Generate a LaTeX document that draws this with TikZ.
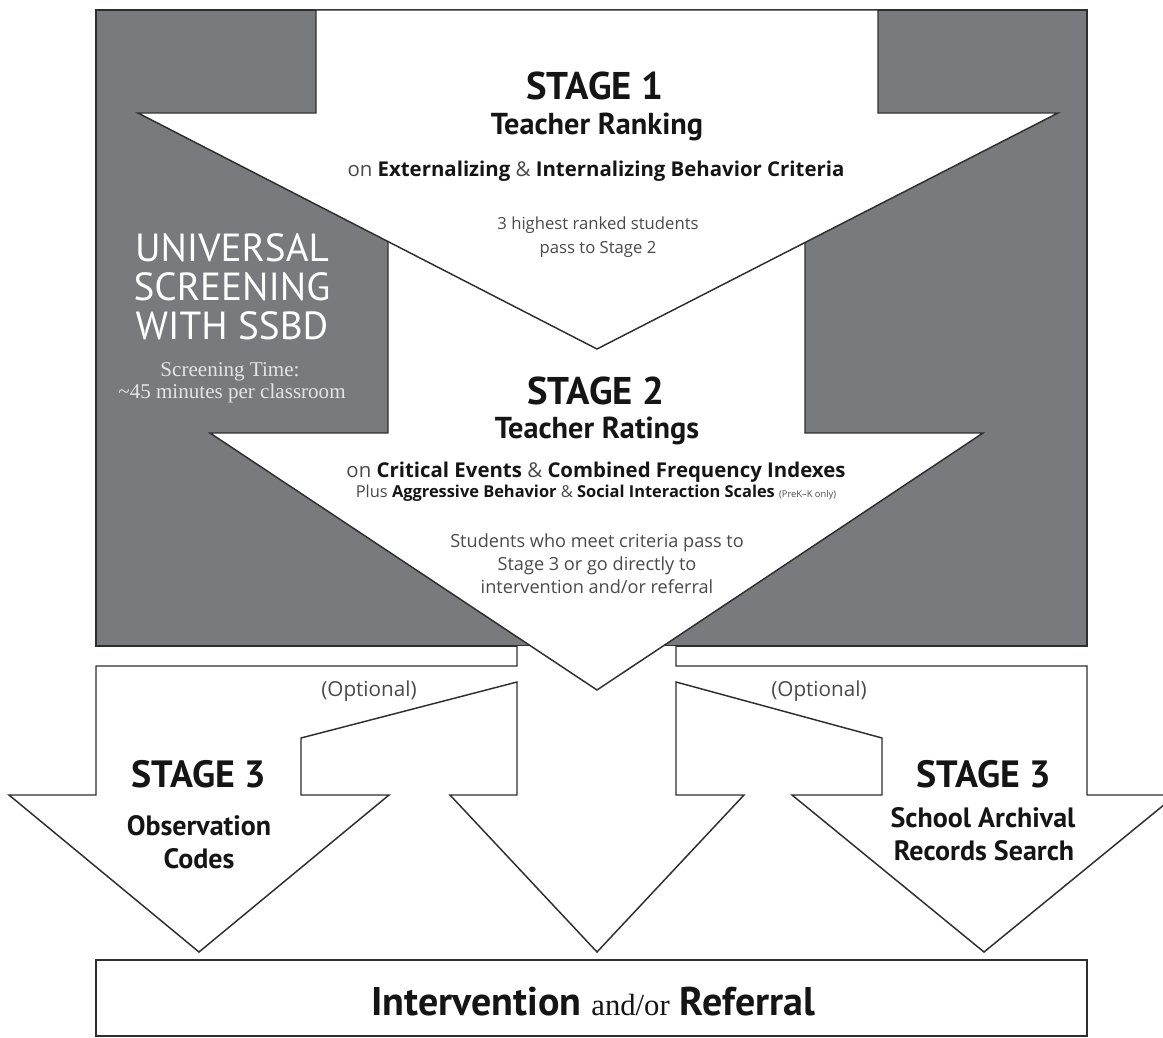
\documentclass[tikz,border=0pt]{standalone}
\usepackage{fontspec}
\setmainfont{Open Sans}
\newfontfamily\headfont{PT Sans}
\newfontfamily\oldfont{Liberation Serif}
\usetikzlibrary{positioning}
\definecolor{boxgray}{HTML}{797A7E}
\definecolor{linegray}{HTML}{2E2E2E}
\definecolor{txtgray}{HTML}{4A4A4A}
\definecolor{titleblack}{HTML}{151515}
\definecolor{lightwhite}{HTML}{E4E4E4}
\newcommand{\hl}[1]{{\bfseries\color{titleblack}#1}}

\begin{document}
\begin{tikzpicture}[x=0.75pt,y=0.75pt,yscale=-1,xscale=1,
  arrowshape/.style={draw=linegray,line width=1.1pt,fill=white,line join=miter},
  stagetitle/.style={font=\headfont\bfseries\fontsize{29}{33}\selectfont,text=titleblack,anchor=base,inner sep=0pt},
  stagename/.style={font=\headfont\bfseries\fontsize{22.7}{26}\selectfont,text=titleblack,anchor=base,inner sep=0pt},
  smallname/.style={font=\headfont\bfseries\fontsize{21}{24}\selectfont,text=titleblack,anchor=base,inner sep=0pt},
  criteria/.style={font=\fontsize{15.3}{18}\selectfont,text=txtgray,anchor=base,inner sep=0pt},
  note/.style={font=\fontsize{12.5}{15}\selectfont,text=txtgray,anchor=base,inner sep=0pt},
  bigwhite/.style={font=\headfont\fontsize{29.4}{33}\selectfont,text=white,anchor=base,inner sep=0pt},
  smallwhite/.style={font=\oldfont\fontsize{15.8}{18}\selectfont,text=lightwhite,anchor=base,inner sep=0pt}]
\useasboundingbox (0,0) rectangle (1163,1038);

% Gray box
\draw[draw=linegray,line width=1.1pt,fill=boxgray] (96,10) -- (1087,10) -- (1087,646) -- (96,646) -- cycle;

% Stage 3 arrows
\draw[arrowshape] (517,646) -- (517,666) -- (96,666) -- (96,795) -- (9,795) -- (199,952) -- (389,795) -- (301,795) -- (301,738) -- (517,682) -- (517,795) -- (450,795) -- (597,952) -- (744,795) -- (676,795) -- (676,682) -- (882,738) -- (882,795) -- (792,795) -- (984,952) -- (1176,795) -- (1087,795) -- (1087,666) -- (676,666) -- (676,646);

% Stage 2 arrow
\draw[arrowshape] (388,200) -- (805,200) -- (805,433) -- (983,433) -- (597,690) -- (210,433) -- (388,433) -- cycle;

% Stage 1 arrow
\draw[arrowshape] (316,10) -- (878,10) -- (878,113) -- (1058,113) -- (597,349) -- (138,113) -- (316,113) -- cycle;

% Result box
\draw[arrowshape] (96,960) -- (1087,960) -- (1087,1036) -- (96,1036) -- cycle;

% Text Node
\node[stagetitle] (stageone) at (595,100) {STAGE 1};
\node[stagename] (ranking) at (597,135) {Teacher Ranking};
\node[criteria] (extint) at (596,176) {on \hl{Externalizing} \& \hl{Internalizing Behavior Criteria}};
\node[note] (highest) at (598,229) {3 highest ranked students};
\node[note] (passtwo) at (598,253) {pass to Stage 2};

% Text Node
\node[bigwhite] (universal) at (232,261) {UNIVERSAL};
\node[bigwhite] (screening) at (232,300) {SCREENING};
\node[bigwhite] (withssbd) at (232,339) {WITH SSBD};
\node[smallwhite] (scrtime) at (230,376) {Screening Time:};
\node[smallwhite] (minutes) at (232,398) {\textasciitilde 45 minutes per classroom};

% Text Node
\node[stagetitle] (stagetwo) at (596,404) {STAGE 2};
\node[stagename] (ratings) at (597,438) {Teacher Ratings};
\node[criteria] (critical) at (596,477) {on \hl{Critical Events} \& \hl{Combined Frequency Indexes}};
\node[criteria,font=\fontsize{12.3}{14}\selectfont] (plus) at (596,497) {Plus \hl{Aggressive Behavior} \& \hl{Social Interaction Scales} {\fontsize{7}{8}\selectfont(PreK--K only)}};
\node[note,font=\fontsize{13.6}{16}\selectfont] (meet) at (597,547) {Students who meet criteria pass to};
\node[note,font=\fontsize{13.6}{16}\selectfont] (gothree) at (597,570) {Stage 3 or go directly to};
\node[note,font=\fontsize{13.6}{16}\selectfont] (interref) at (597,593) {intervention and/or referral};

% Text Node
\node[note,font=\fontsize{15.5}{18}\selectfont] (optleft) at (369,696) {(Optional)};
\node[note,font=\fontsize{15.5}{18}\selectfont] (optright) at (819,696) {(Optional)};

% Text Node
\node[stagetitle,font=\headfont\bfseries\fontsize{28.5}{32}\selectfont] (threeleft) at (199,787) {STAGE 3};
\node[smallname] (observation) at (199,835) {Observation};
\node[smallname] (codes) at (199,868) {Codes};
\node[stagetitle,font=\headfont\bfseries\fontsize{28.5}{32}\selectfont] (threeright) at (984,787) {STAGE 3};
\node[smallname] (archival) at (983,827) {School Archival};
\node[smallname] (records) at (984,860) {Records Search};

% Text Node
\node[stagetitle,font=\headfont\bfseries\fontsize{30}{34}\selectfont] (result) at (593,1015) {Intervention {\oldfont\mdseries\fontsize{23}{26}\selectfont and/or} Referral};

\end{tikzpicture}
\end{document}
